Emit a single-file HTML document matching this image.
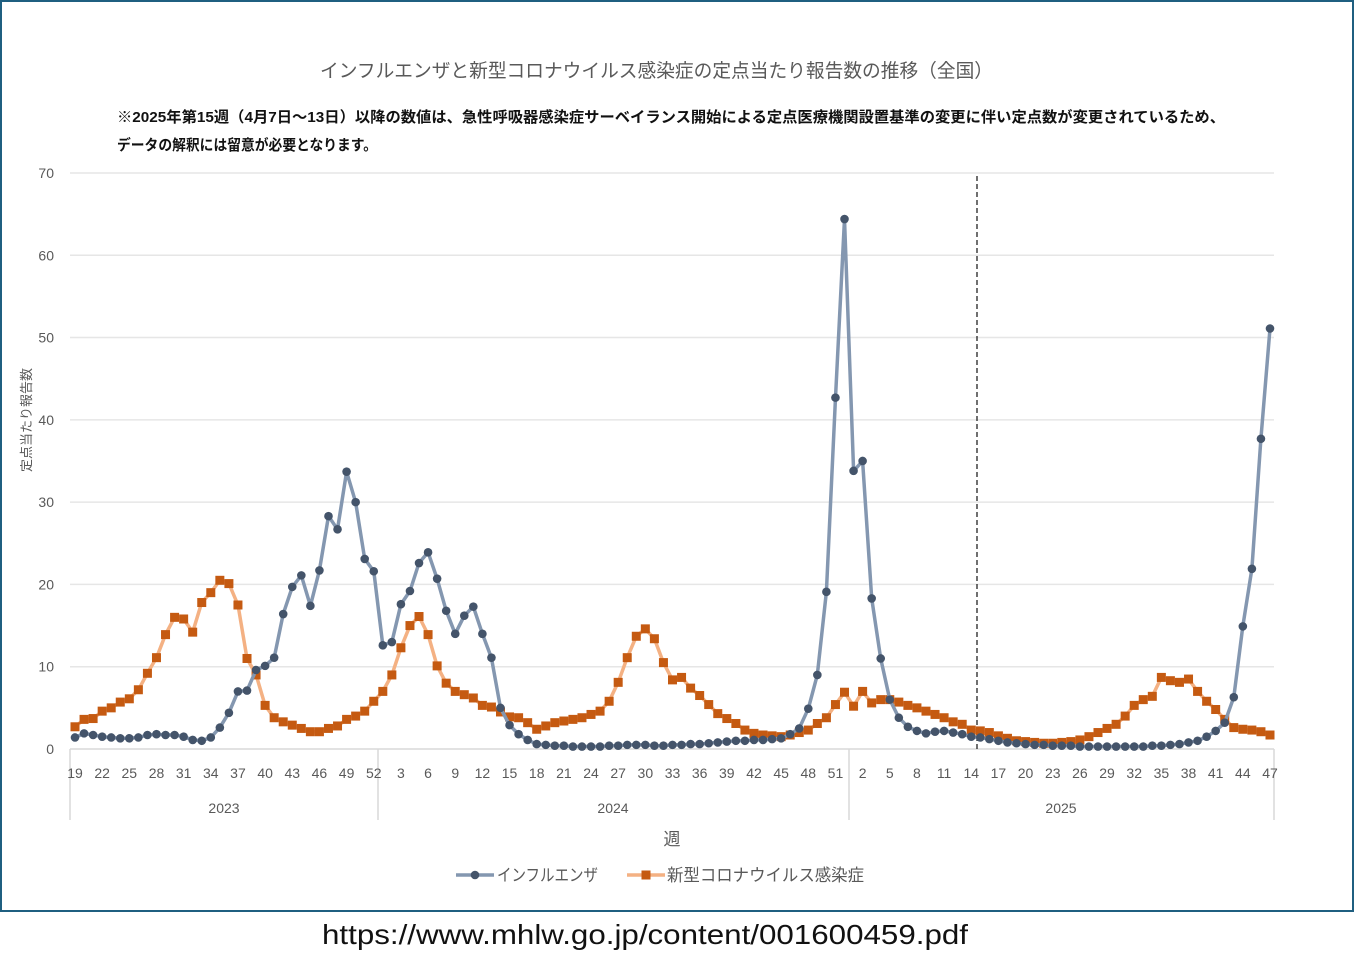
<!DOCTYPE html>
<html><head><meta charset="utf-8">
<style>
html,body{margin:0;padding:0;background:#fff;}
body{width:1354px;height:971px;position:relative;overflow:hidden;font-family:"Liberation Sans","Noto Sans CJK JP",sans-serif;}
#frame{position:absolute;left:0;top:0;width:1350px;height:908px;border:2px solid #1f5f80;}
svg{position:absolute;left:0;top:0;}
</style></head><body>
<div id="frame"></div>
<svg id="c" width="1354" height="971" xmlns="http://www.w3.org/2000/svg"></svg>
<script>
const flu=[1.4,1.9,1.7,1.5,1.4,1.3,1.3,1.4,1.7,1.8,1.7,1.7,1.5,1.1,1.0,1.4,2.6,4.4,7.0,7.1,9.6,10.1,11.1,16.4,19.7,21.1,17.4,21.7,28.3,26.7,33.7,30.0,23.1,21.6,
12.6,13.0,17.6,19.2,22.6,23.9,20.7,16.8,14.0,16.2,17.3,14.0,11.1,5.0,2.9,
1.8,1.1,0.6,0.5,0.4,0.4,0.3,0.3,0.3,0.3,0.4,0.4,0.5,0.5,0.5,0.4,0.4,0.5,0.5,0.6,0.6,0.7,0.8,0.9,1.0,1.0,1.1,1.1,1.2,1.3,
1.8,2.5,4.9,9.0,19.1,42.7,64.4,
33.8,35.0,18.3,11.0,6.0,3.8,2.7,2.2,1.9,2.1,2.2,2.0,1.8,1.5,
1.4,1.2,1.0,0.8,0.7,0.6,0.5,0.5,0.4,0.4,0.4,0.3,0.3,0.3,0.3,0.3,0.3,0.3,0.3,0.4,0.4,0.5,0.6,0.8,
1.0,1.5,2.2,3.2,6.3,14.9,21.9,37.7,51.1];
const cov=[2.7,3.6,3.7,4.6,5.0,5.7,6.1,7.2,9.2,11.1,13.9,16.0,15.8,14.2,17.8,19.0,20.5,20.1,17.5,11.0,9.0,5.3,3.8,3.3,2.9,2.5,2.1,2.1,2.5,2.8,3.6,4.0,4.6,5.8,
7.0,9.0,12.3,15.0,16.1,13.9,10.1,8.0,7.0,6.6,6.2,5.3,5.1,4.5,3.9,3.8,3.2,2.4,2.8,3.2,3.4,3.6,3.8,4.2,4.6,5.8,8.1,11.1,13.7,14.6,13.4,10.5,8.4,8.7,7.4,6.5,5.4,4.3,3.7,3.1,2.3,1.9,1.7,1.6,1.5,1.7,2.0,2.3,3.1,3.8,5.4,6.9,
5.2,7.0,5.6,6.0,6.0,5.7,5.3,5.0,4.6,4.2,3.8,3.3,3.0,
2.3,2.2,2.0,1.6,1.3,1.0,0.9,0.8,0.7,0.7,0.8,0.9,1.1,1.5,2.0,2.5,3.0,4.0,5.3,6.0,6.4,
8.7,8.3,8.1,8.5,7.0,5.8,4.8,3.6,2.6,2.4,2.3,2.1,1.7];
const X=i=>75+i*(1195/132), Y=v=>749-v*8.229;
let s='';
const g='#595959';
s+=`<text x="320" y="77" textLength="673" lengthAdjust="spacingAndGlyphs" font-size="19" fill="${g}">インフルエンザと新型コロナウイルス感染症の定点当たり報告数の推移（全国）</text>`;
s+=`<text x="117" y="122" textLength="1108" lengthAdjust="spacingAndGlyphs" font-size="15" font-weight="bold" fill="#111">※2025年第15週（4月7日～13日）以降の数値は、急性呼吸器感染症サーベイランス開始による定点医療機関設置基準の変更に伴い定点数が変更されているため、</text>`;
s+=`<text x="117" y="150" textLength="260" lengthAdjust="spacingAndGlyphs" font-size="15" font-weight="bold" fill="#111">データの解釈には留意が必要となります。</text>`;
for(let k=0;k<=7;k++){const y=Y(k*10);
 s+=`<line x1="70" x2="1274" y1="${y}" y2="${y}" stroke="${k==0?'#d9d9d9':'#e6e6e6'}" stroke-width="1.5"/>`;
 s+=`<text x="54" y="${y+5}" text-anchor="end" font-size="14" fill="${g}">${k*10}</text>`;}
[70,378,849,1274].forEach(x=>s+=`<line x1="${x}" x2="${x}" y1="749" y2="820" stroke="#d9d9d9" stroke-width="1.5"/>`);
s+=`<line x1="977" x2="977" y1="176" y2="749" stroke="#222" stroke-width="1.3" stroke-dasharray="5,3"/>`;
for(let i=0;i<133;i++){let w=i<34?i+19:(i<86?i-33:i-85);
 if((i%3)==0) s+=`<text x="${X(i)}" y="778" text-anchor="middle" font-size="14" fill="${g}">${w}</text>`;}
s+=`<text x="224" y="813" text-anchor="middle" font-size="14" fill="${g}">2023</text>`;
s+=`<text x="613" y="813" text-anchor="middle" font-size="14" fill="${g}">2024</text>`;
s+=`<text x="1061" y="813" text-anchor="middle" font-size="14" fill="${g}">2025</text>`;
s+=`<text x="672" y="845" text-anchor="middle" font-size="17" fill="${g}">週</text>`;
s+=`<text transform="translate(31,420) rotate(-90)" text-anchor="middle" font-size="13" fill="${g}">定点当たり報告数</text>`;
const pts=a=>a.map((v,i)=>X(i).toFixed(1)+','+Y(v).toFixed(1)).join(' ');
s+=`<polyline points="${pts(cov)}" fill="none" stroke="#f4b183" stroke-width="3.5" stroke-linejoin="round"/>`;
cov.forEach((v,i)=>s+=`<rect x="${X(i)-4.5}" y="${Y(v)-4.5}" width="9" height="9" fill="#c55a11"/>`);
s+=`<polyline points="${pts(flu)}" fill="none" stroke="#8497b0" stroke-width="3.5" stroke-linejoin="round"/>`;
flu.forEach((v,i)=>s+=`<circle cx="${X(i)}" cy="${Y(v)}" r="4.3" fill="#44546a"/>`);
s+=`<line x1="456" x2="494" y1="875" y2="875" stroke="#8497b0" stroke-width="3.5"/><circle cx="475" cy="875" r="4.3" fill="#44546a"/>`;
s+=`<text x="497" y="881" textLength="101" lengthAdjust="spacingAndGlyphs" font-size="17" fill="${g}">インフルエンザ</text>`;
s+=`<line x1="627" x2="665" y1="875" y2="875" stroke="#f4b183" stroke-width="3.5"/><rect x="641.5" y="870.5" width="9" height="9" fill="#c55a11"/>`;
s+=`<text x="667" y="881" textLength="197" lengthAdjust="spacingAndGlyphs" font-size="17" fill="${g}">新型コロナウイルス感染症</text>`;
s+=`<text x="322" y="944" textLength="646" lengthAdjust="spacingAndGlyphs" font-size="28" fill="#111">https://www.mhlw.go.jp/content/001600459.pdf</text>`;
document.getElementById('c').innerHTML=s;
</script>
</body></html>
